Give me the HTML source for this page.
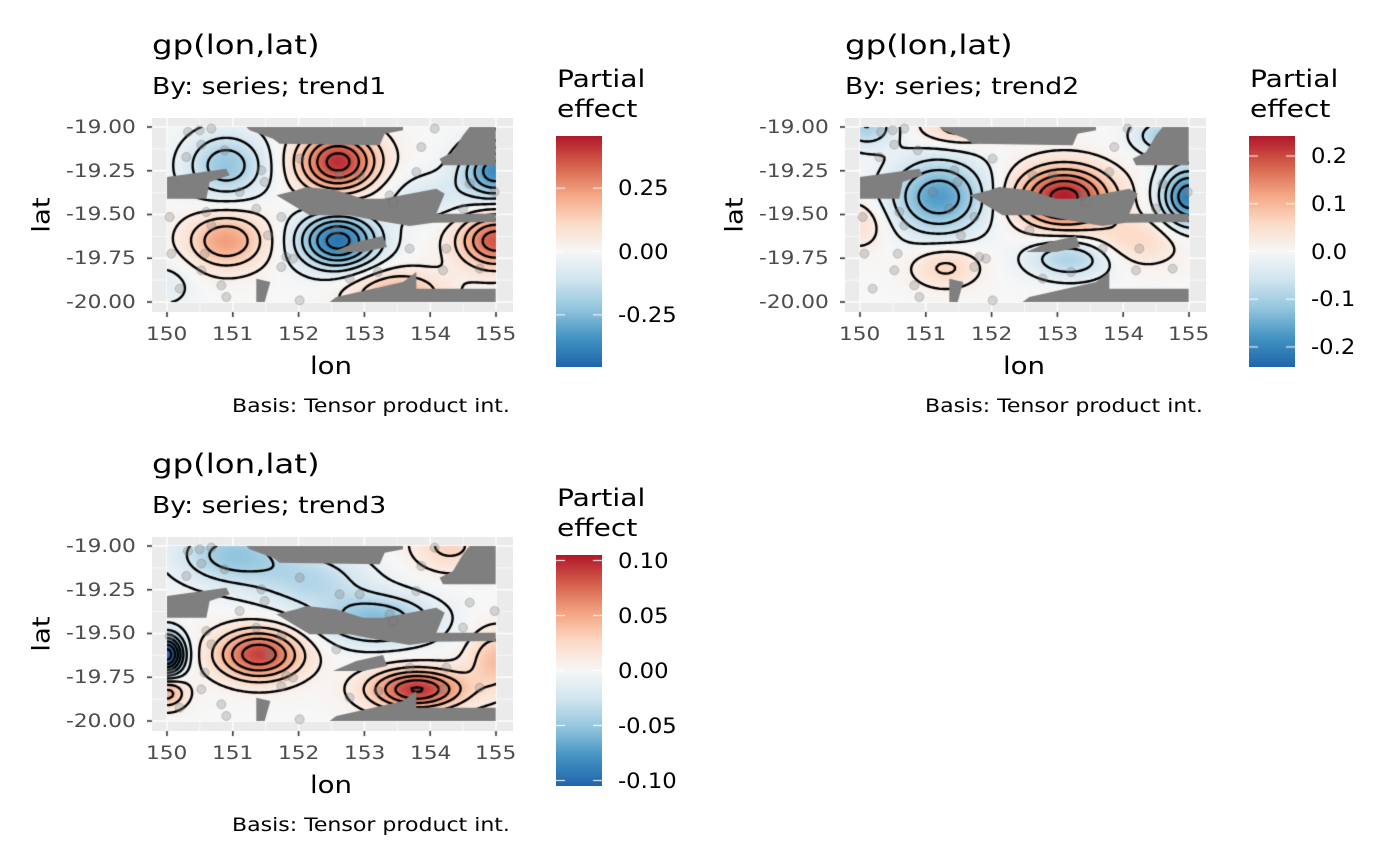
<!DOCTYPE html>
<html><head><meta charset="utf-8">
<style>
body{margin:0;background:#fff;width:1400px;height:866px;overflow:hidden;position:relative;font-family:"DejaVu Sans","Liberation Sans",sans-serif}
.t{position:absolute;white-space:nowrap;color:#000;line-height:1;display:inline-block;transform-origin:0 0}
canvas{position:absolute}
</style></head><body>
<div id="root"></div>
<script>
// ---- data ----
const lonTicks=[150,151,152,153,154,155];
const latTicks=[-19.00,-19.25,-19.50,-19.75,-20.00];
const latTickLabels=["-19.00","-19.25","-19.50","-19.75","-20.00"];
const subtitles=["By: series; trend1","By: series; trend2","By: series; trend3"];
// bumps per panel: lon, lat, amplitude, sigma lon, sigma lat
const b1Lon=[150.9,152.6,150.9,152.6,155.0,155.0,153.5,154.0,150.0];
const b1Lat=[-19.22,-19.2,-19.65,-19.65,-19.65,-19.25,-19.95,-19.4,-19.9];
const b1Amp=[-0.22,0.42,0.24,-0.42,0.36,-0.36,0.2,-0.08,-0.06];
const b1Sx=[0.42,0.42,0.42,0.42,0.4,0.35,0.5,0.5,0.3];
const b1Sy=[0.13,0.12,0.11,0.11,0.11,0.11,0.09,0.1,0.1];
const b2Lon=[151.2,153.1,155.0,150.1,151.3,153.2,151.5,154.6,154.2,150.0];
const b2Lat=[-19.4,-19.4,-19.4,-19.0,-19.8,-19.75,-19.0,-19.05,-19.65,-19.55];
const b2Amp=[-0.17,0.24,-0.21,-0.1,0.07,-0.1,0.08,-0.1,0.06,0.05];
const b2Sx=[0.5,0.5,0.3,0.3,0.35,0.45,0.4,0.3,0.5,0.3];
const b2Sy=[0.15,0.12,0.12,0.08,0.08,0.08,0.07,0.07,0.1,0.1];
const b3Lon=[151.0,153.2,151.4,153.8,150.0,150.0,154.3,155.0,152.2];
const b3Lat=[-19.05,-19.42,-19.62,-19.82,-19.62,-19.84,-19.0,-19.65,-19.2];
const b3Amp=[-0.05,-0.055,0.09,0.095,-0.12,0.05,0.03,0.04,-0.035];
const b3Sx=[0.6,0.6,0.45,0.5,0.18,0.2,0.4,0.3,0.6];
const b3Sy=[0.12,0.1,0.1,0.08,0.08,0.06,0.1,0.12,0.12];
const limits=[0.456,0.242,0.105];
const legTicks=[[0.25,0,-0.25],[0.2,0.1,0,-0.1,-0.2],[0.1,0.05,0,-0.05,-0.1]];
const legLabels=[["0.25","0.00","-0.25"],["0.2","0.1","0.0","-0.1","-0.2"],["0.10","0.05","0.00","-0.05","-0.10"]];
const steps=[0.07,0.04,0.017];
// observation locations in zoom units of panel 1
const obsZX=[115,150,185,155,225,110,335,345,270,170,60,320,395,185,355,165,65,155,90,215,230,410,430,395,450,600,685,880,990,560,570,630,720,730,800,815,855,960,1035,940,890,780,450];
const obsZY=[50,45,40,88,105,125,165,200,230,290,305,280,305,330,360,415,415,465,520,510,545,425,430,455,555,490,470,465,460,345,180,180,240,260,170,95,40,205,230,280,400,400,130];
// land polygons (zoom units of panel 1)
const land=[
[[290,35],[760,35],[760,45],[705,55],[690,90],[390,85],[370,70],[300,45]],
[[960,35],[1038,35],[1038,150],[880,150],[870,130],[910,110],[940,60]],
[[52,185],[230,160],[240,180],[180,200],[170,250],[52,250]],
[[380,240],[440,225],[470,215],[560,225],[640,250],[700,250],[860,220],[885,235],[860,295],[1038,295],[1038,320],[850,322],[780,332],[660,312],[600,300],[530,300],[480,300],[430,270]],
[[550,410],[620,380],[700,362],[712,395],[640,410]],
[[320,490],[362,500],[345,560],[320,560]],
[[540,560],[560,545],[760,500],[800,470],[800,520],[1038,520],[1038,560]]
];
function zLon(zx){return 150+(zx-52)/197.4;}
function zLat(zy){return -19-(zy-35)/525;}

const bumps=[[b1Lon,b1Lat,b1Amp,b1Sx,b1Sy],[b2Lon,b2Lat,b2Amp,b2Sx,b2Sy],[b3Lon,b3Lat,b3Amp,b3Sx,b3Sy]];
const panels=[{ox:0,oy:0},{ox:693,oy:0},{ox:0,oy:419}];
const pal=["#2166ac","#4393c3","#92c5de","#d1e5f0","#f7f7f7","#fddbc7","#f4a582","#d6604d","#b2182b"];
function hex(h){return [parseInt(h.substr(1,2),16),parseInt(h.substr(3,2),16),parseInt(h.substr(5,2),16)];}
const palR=pal.map(hex);
function col(v,lim){let t=(v/lim+1)/2;t=Math.max(0,Math.min(1,t));const p=t*8,i=Math.min(7,Math.floor(p)),f=p-i;const a=palR[i],b=palR[i+1];return [a[0]+(b[0]-a[0])*f,a[1]+(b[1]-a[1])*f,a[2]+(b[2]-a[2])*f];}
const root=document.getElementById('root');
// place text: x = anchor, align 'l'|'r'|'c', baseline y, font size, horizontal scale
function txt(s,x,base,fs,align,sx,color,name){
  const d=document.createElement('div');d.className='t';d.textContent=s;d.style.fontSize=fs+'px';
  if(color)d.style.color=color;
  
  
  root.appendChild(d);
  const w=d.getBoundingClientRect().width*sx;
  let left=x; if(align==='r')left=x-w; else if(align==='c')left=x-w/2;
  d.style.left=left+'px';d.style.top=(base-0.85*fs)+'px';d.style.transform='scaleX('+sx+')';
  return d;
}

panels.forEach((P,k)=>{
  const ox=P.ox,oy=P.oy;
  const xs=lon=>167+ox+(lon-150)*65.8;
  const ys=lat=>127+oy+(-19-lat)*175;
  const B=bumps[k];
  const f=(lon,lat)=>{let s=0;for(let i=0;i<B[0].length;i++){const dx=(lon-B[0][i])/B[3][i],dy=(lat-B[1][i])/B[4][i];s+=B[2][i]*Math.exp(-0.5*(dx*dx+dy*dy));}return s;};
  const cx0=152+ox,cy0=118+oy,cw=361,ch=194;
  const c=document.createElement('canvas');c.width=cw;c.height=ch;c.style.left=cx0+'px';c.style.top=cy0+'px';
  
  
  root.appendChild(c);
  const g=c.getContext('2d');
  g.fillStyle='#ebebeb';g.fillRect(0,0,cw,ch);
  g.strokeStyle='#fff';
  for(let i=0;i<lonTicks.length;i++){const x=xs(lonTicks[i])-cx0;g.lineWidth=1.4;g.beginPath();g.moveTo(x,0);g.lineTo(x,ch);g.stroke();if(i<lonTicks.length-1){const xm=xs(lonTicks[i]+0.5)-cx0;g.lineWidth=0.7;g.beginPath();g.moveTo(xm,0);g.lineTo(xm,ch);g.stroke();}}
  for(let i=0;i<latTicks.length;i++){const y=ys(latTicks[i])-cy0;g.lineWidth=1.4;g.beginPath();g.moveTo(0,y);g.lineTo(cw,y);g.stroke();if(i<latTicks.length-1){const ym=ys(latTicks[i]-0.125)-cy0;g.lineWidth=0.7;g.beginPath();g.moveTo(0,ym);g.lineTo(cw,ym);g.stroke();}}
  const x0=xs(150)-cx0,x1=xs(155)-cx0,y0=ys(-19)-cy0,y1=ys(-20)-cy0;
  const img=g.getImageData(0,0,cw,ch);
  for(let py=Math.round(y0);py<Math.round(y1);py++)for(let px=Math.round(x0);px<Math.round(x1);px++){
    const lon=150+(px+0.5-x0)/65.8,lat=-19-(py+0.5-y0)/175;const cc=col(f(lon,lat),limits[k]);const o=(py*cw+px)*4;img.data[o]=cc[0];img.data[o+1]=cc[1];img.data[o+2]=cc[2];img.data[o+3]=255;}
  g.putImageData(img,0,0);
  const N=125,M=70;const dl=5/N,dt=1/M;const V=[];
  for(let j=0;j<=M;j++){V[j]=[];for(let i=0;i<=N;i++)V[j][i]=f(150+i*dl,-19-j*dt);}
  g.save();g.beginPath();g.rect(x0,y0,x1-x0,y1-y0);g.clip();
  g.strokeStyle='#000';g.lineWidth=2.4;g.lineCap='round';g.beginPath();
  const st=steps[k];
  for(let L=-12;L<=12;L++){const lv=L*st+st*0.5;
    for(let j=0;j<M;j++)for(let i=0;i<N;i++){
      const a=V[j][i],b=V[j][i+1],cq=V[j+1][i+1],d=V[j+1][i];
      const pts=[];
      const px=ii=>x0+ii*dl*65.8,py=jj=>y0+jj*dt*175;
      if((a>lv)!=(b>lv)){const t=(lv-a)/(b-a);pts.push([px(i+t),py(j)]);}
      if((b>lv)!=(cq>lv)){const t=(lv-b)/(cq-b);pts.push([px(i+1),py(j+t)]);}
      if((d>lv)!=(cq>lv)){const t=(lv-d)/(cq-d);pts.push([px(i+t),py(j+1)]);}
      if((a>lv)!=(d>lv)){const t=(lv-a)/(d-a);pts.push([px(i),py(j+t)]);}
      for(let q=0;q+1<pts.length;q+=2){g.moveTo(pts[q][0],pts[q][1]);g.lineTo(pts[q+1][0],pts[q+1][1]);}
    }}
  g.stroke();g.restore();
  g.fillStyle='#7f7f7f';
  land.forEach(poly=>{g.beginPath();poly.forEach((p,i)=>{const X=xs(zLon(p[0]))-cx0,Y=ys(zLat(p[1]))-cy0;i?g.lineTo(X,Y):g.moveTo(X,Y);});g.closePath();g.fill();});
  for(let i=0;i<obsZX.length;i++){const X=xs(zLon(obsZX[i]))-cx0,Y=ys(zLat(obsZY[i]))-cy0;g.beginPath();g.arc(X,Y,4.5,0,7);g.fillStyle='rgba(128,128,128,0.3)';g.fill();g.strokeStyle='rgba(100,100,100,0.3)';g.lineWidth=1;g.stroke();}
  // ticks
  const tk=document.createElement('canvas');tk.width=cw+10;tk.height=ch+10;tk.style.left=(cx0-5)+'px';tk.style.top=cy0+'px';
  
  
  root.appendChild(tk);const h=tk.getContext('2d');h.strokeStyle='#333';h.lineWidth=1.6;
  latTicks.forEach(t=>{const y=ys(t)-cy0;h.beginPath();h.moveTo(0,y);h.lineTo(5,y);h.stroke();});
  lonTicks.forEach(t=>{const x=xs(t)-cx0+5;h.beginPath();h.moveTo(x,ch);h.lineTo(x,ch+5);h.stroke();});
  // text
  txt('gp(lon,lat)',152+ox,55+oy,27,'l',1.2,null,'panel-title');
  txt(subtitles[k],152+ox,96+oy,23,'l',1.16,null,'panel-subtitle');
  latTicks.forEach((t,i)=>txt(latTickLabels[i],136+ox,ys(t)+7,19,'r',1.14,'#4d4d4d','y-tick-label'));
  lonTicks.forEach(t=>txt(String(t),xs(t),341+oy,19,'c',1.14,'#4d4d4d','x-tick-label'));
  txt('lon',331+ox,374+oy,24,'c',1.15,null,'x-axis-title');
  const la=document.createElement('div');la.className='t';la.textContent='lat';la.style.fontSize='24px';
  
  
  la.style.left=(26+ox)+'px';la.style.top=(203+oy)+'px';la.style.transformOrigin='50% 50%';la.style.transform='rotate(-90deg) scaleX(1.15)';root.appendChild(la);
  txt('Basis: Tensor product int.',510+ox,413+oy,19,'r',1.16,null,'caption');
  txt('Partial',557+ox,87+oy,24,'l',1.17,null,'legend-title');
  txt('effect',557+ox,117+oy,24,'l',1.17,null,'legend-title');
  const cb=document.createElement('canvas');cb.width=46;cb.height=231;cb.style.left=(556+ox)+'px';cb.style.top=(136+oy)+'px';
  
  
  root.appendChild(cb);const e=cb.getContext('2d');
  for(let y=0;y<231;y++){const v=limits[k]*(1-2*(y+0.5)/231);const cc=col(v,limits[k]);e.fillStyle=`rgb(${cc[0]|0},${cc[1]|0},${cc[2]|0})`;e.fillRect(0,y,46,1);}
  e.strokeStyle='#fff';e.lineWidth=1;
  legTicks[k].forEach((t,i)=>{const y=115.5-t/limits[k]*115.5;e.beginPath();e.moveTo(0,y);e.lineTo(9,y);e.moveTo(37,y);e.lineTo(46,y);e.stroke();
    txt(legLabels[k][i],618+ox,136+oy+y+8,21,'l',1.08,null,'legend-label');});
});
</script>
</body></html>
